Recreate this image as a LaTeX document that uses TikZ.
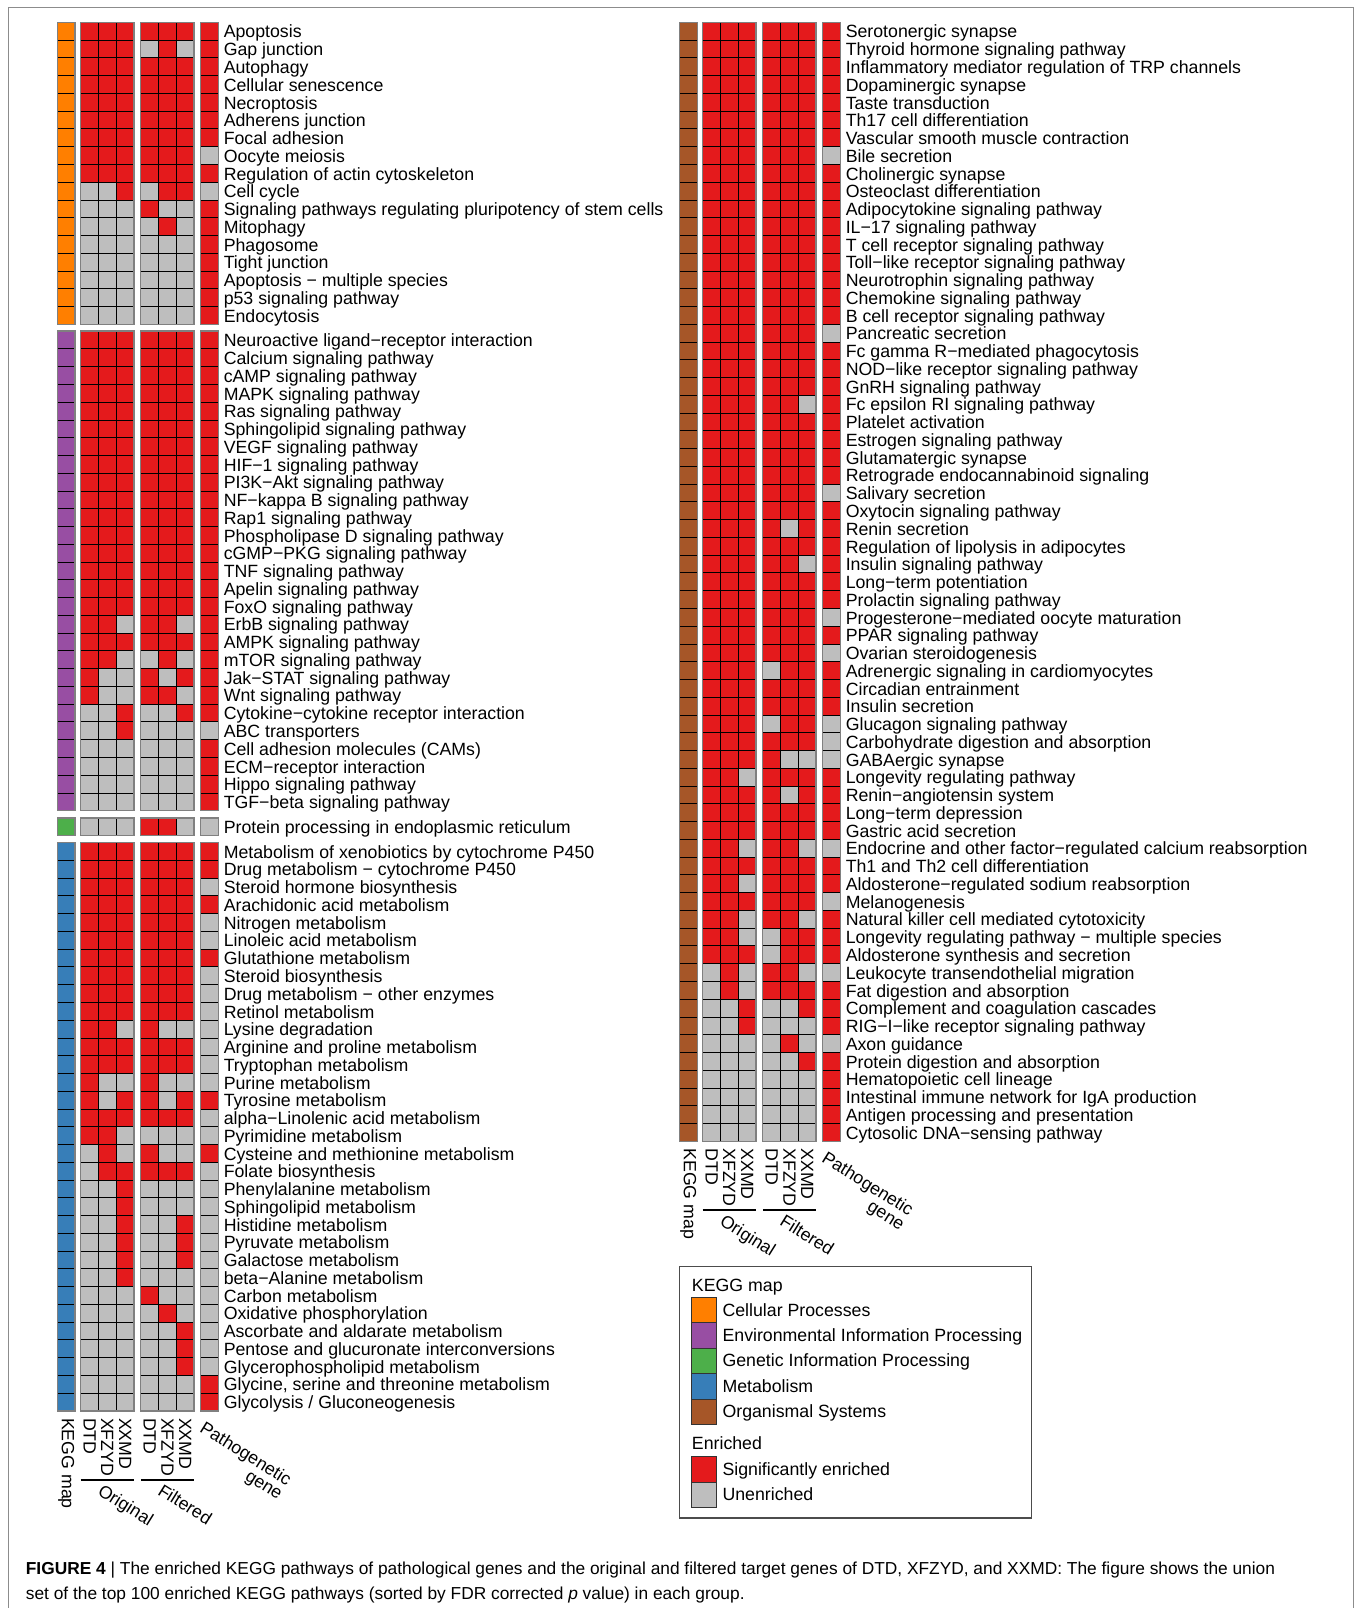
\documentclass[tikz,border=0pt]{standalone}
\usepackage{fontspec}
\setmainfont{Liberation Sans}
\usetikzlibrary{positioning}

\definecolor{cellproc}{HTML}{FF7F00}
\definecolor{envinfo}{HTML}{984EA3}
\definecolor{geninfo}{HTML}{4DAF4A}
\definecolor{metab}{HTML}{377EB8}
\definecolor{orgsys}{HTML}{A65628}
\definecolor{sigred}{HTML}{E41A1C}
\definecolor{unenr}{HTML}{BEBEBE}

\newcount\rowno
\def\cs{17.76}

% one heatmap cell, red if the bit is 1
\newcommand\hmcell[2]{%
  \ifnum#2=1 \def\cfill{sigred}\else\def\cfill{unenr}\fi
  \filldraw[cellbox,fill=\cfill] (#1,\yt) rectangle ++(\cs,\cs);}

\newcommand\hmbits[7]{%
  \hmcell{\xo+80.7}{#1}\hmcell{\xo+98.46}{#2}\hmcell{\xo+116.22}{#3}%
  \hmcell{\xo+140.8}{#4}\hmcell{\xo+158.56}{#5}\hmcell{\xo+176.32}{#6}%
  \hmcell{\xo+200.8}{#7}}

% x offset, top, kegg colour, rows, data
\newcommand\hmgroup[5]{%
  \def\xo{#1}
  \foreach \bits/\lab [count=\k from 0] in {#5}{
    \global\advance\rowno by 1
    \pgfmathsetmacro\yt{#2+\k*\cs}
    \filldraw[cellbox,fill=#3] (\xo+57.4,\yt) rectangle ++(\cs,\cs);
    \expandafter\hmbits\bits
    \node[lab] (pw\the\rowno) at (\xo+223.5,\yt+\cs/2+6.8) {\lab};
  }
  \pgfmathsetmacro\yb{#2+#4*\cs}
  \draw[blockrim] (\xo+57.4,#2) rectangle (\xo+75.16,\yb);
  \draw[blockrim] (\xo+80.7,#2) rectangle (\xo+133.98,\yb);
  \draw[blockrim] (\xo+140.8,#2) rectangle (\xo+194.08,\yb);
  \draw[blockrim] (\xo+200.8,#2) rectangle (\xo+218.56,\yb);
}

% column names under a panel
\newcommand\hmfoot[3]{%
  \node[colname] (#3kegg) at (#1+66.3,#2+7) {KEGG map};
  \node[colname] (#3odtd) at (#1+89.6,#2+7) {DTD};
  \node[colname] (#3oxf) at (#1+107.3,#2+7) {XFZYD};
  \node[colname] (#3oxx) at (#1+125.1,#2+7) {XXMD};
  \node[colname] (#3fdtd) at (#1+149.7,#2+7) {DTD};
  \node[colname] (#3fxf) at (#1+167.4,#2+7) {XFZYD};
  \node[colname] (#3fxx) at (#1+185.2,#2+7) {XXMD};
  \draw[grpline] (#1+80.7,#2+69) -- (#1+134,#2+69);
  \draw[grpline] (#1+140.8,#2+69) -- (#1+194.1,#2+69);
  \node[grpname] (#3orig) at (#1+103.5,#2+72) {Original};
  \node[grpname] (#3filt) at (#1+163.5,#2+72) {Filtered};
  \node[grpname,align=right] (#3path) at (#1+205.5,#2+9) {Pathogenetic\\gene};
}

\begin{document}
\begin{tikzpicture}[x=0.75pt,y=-0.75pt,
  cellbox/.style={draw=black,line width=0.55pt},
  blockrim/.style={draw=black!50,line width=1pt},
  lab/.style={font=\fontsize{13.3}{16}\selectfont,inner sep=0pt,anchor=base west},
  colname/.style={lab,rotate=-90,anchor=west},
  grpname/.style={lab,font=\fontsize{13.3}{12.5}\selectfont,rotate=-32,anchor=north west},
  grpline/.style={line width=1.4pt},
  legbox/.style={draw=black!80,line width=0.6pt},
  capt/.style={font=\fontsize{13}{15}\selectfont,inner sep=0pt,anchor=base west}]

\useasboundingbox (0,0) rectangle (1357,1608);
\fill[white] (0,0) rectangle (1357,1608);
\draw[black!45,line width=0.8pt] (8.5,1608) |- (1353.5,7.5) -- (1353.5,1608);

% left panel
\hmgroup{0}{22.3}{cellproc}{17}{
1111111/Apoptosis,
1110101/Gap junction,
1111111/Autophagy,
1111111/Cellular senescence,
1111111/Necroptosis,
1111111/Adherens junction,
1111111/Focal adhesion,
1111110/Oocyte meiosis,
1111111/Regulation of actin cytoskeleton,
0010110/Cell cycle,
0001001/Signaling pathways regulating pluripotency of stem cells,
0000101/Mitophagy,
0000001/Phagosome,
0000001/Tight junction,
0000001/Apoptosis − multiple species,
0000001/p53 signaling pathway,
0000001/Endocytosis}

\hmgroup{0}{331.1}{envinfo}{27}{
1111111/Neuroactive ligand−receptor interaction,
1111111/Calcium signaling pathway,
1111111/cAMP signaling pathway,
1111111/MAPK signaling pathway,
1111111/Ras signaling pathway,
1111111/Sphingolipid signaling pathway,
1111111/VEGF signaling pathway,
1111111/HIF−1 signaling pathway,
1111111/PI3K−Akt signaling pathway,
1111111/NF−kappa B signaling pathway,
1111111/Rap1 signaling pathway,
1111111/Phospholipase D signaling pathway,
1111111/cGMP−PKG signaling pathway,
1111111/TNF signaling pathway,
1111111/Apelin signaling pathway,
1111111/FoxO signaling pathway,
1101101/ErbB signaling pathway,
1111111/AMPK signaling pathway,
1100101/mTOR signaling pathway,
1001011/Jak−STAT signaling pathway,
1001101/Wnt signaling pathway,
0010011/Cytokine−cytokine receptor interaction,
0010000/ABC transporters,
0000001/Cell adhesion molecules (CAMs),
0000001/ECM−receptor interaction,
0000001/Hippo signaling pathway,
0000001/TGF−beta signaling pathway}

\hmgroup{0}{818.0}{geninfo}{1}{
0001100/Protein processing in endoplasmic reticulum}

\hmgroup{0}{842.5}{metab}{32}{
1111111/Metabolism of xenobiotics by cytochrome P450,
1111111/Drug metabolism − cytochrome P450,
1111110/Steroid hormone biosynthesis,
1111111/Arachidonic acid metabolism,
1111110/Nitrogen metabolism,
1111110/Linoleic acid metabolism,
1111111/Glutathione metabolism,
1111110/Steroid biosynthesis,
1111110/Drug metabolism − other enzymes,
1111110/Retinol metabolism,
1101000/Lysine degradation,
1111110/Arginine and proline metabolism,
1111110/Tryptophan metabolism,
1001000/Purine metabolism,
1011011/Tyrosine metabolism,
1111110/alpha−Linolenic acid metabolism,
1100000/Pyrimidine metabolism,
0101001/Cysteine and methionine metabolism,
0111110/Folate biosynthesis,
0010000/Phenylalanine metabolism,
0010000/Sphingolipid metabolism,
0010010/Histidine metabolism,
0010010/Pyruvate metabolism,
0010010/Galactose metabolism,
0010000/beta−Alanine metabolism,
0001000/Carbon metabolism,
0000100/Oxidative phosphorylation,
0000010/Ascorbate and aldarate metabolism,
0000010/Pentose and glucuronate interconversions,
0000010/Glycerophospholipid metabolism,
0000001/{Glycine, serine and threonine metabolism},
0000001/{Glycolysis / Gluconeogenesis}}

\hmfoot{0}{1410.8}{l}

% right panel
\hmgroup{622}{22.3}{orgsys}{63}{
1111111/Serotonergic synapse,
1111111/Thyroid hormone signaling pathway,
1111111/Inflammatory mediator regulation of TRP channels,
1111111/Dopaminergic synapse,
1111111/Taste transduction,
1111111/Th17 cell differentiation,
1111111/Vascular smooth muscle contraction,
1111110/Bile secretion,
1111111/Cholinergic synapse,
1111111/Osteoclast differentiation,
1111111/Adipocytokine signaling pathway,
1111111/IL−17 signaling pathway,
1111111/T cell receptor signaling pathway,
1111111/Toll−like receptor signaling pathway,
1111111/Neurotrophin signaling pathway,
1111111/Chemokine signaling pathway,
1111111/B cell receptor signaling pathway,
1111110/Pancreatic secretion,
1111111/Fc gamma R−mediated phagocytosis,
1111111/NOD−like receptor signaling pathway,
1111111/GnRH signaling pathway,
1111101/Fc epsilon RI signaling pathway,
1111111/Platelet activation,
1111111/Estrogen signaling pathway,
1111111/Glutamatergic synapse,
1111111/Retrograde endocannabinoid signaling,
1111110/Salivary secretion,
1111111/Oxytocin signaling pathway,
1111011/Renin secretion,
1111111/Regulation of lipolysis in adipocytes,
1111101/Insulin signaling pathway,
1111111/Long−term potentiation,
1111111/Prolactin signaling pathway,
1111110/Progesterone−mediated oocyte maturation,
1111111/PPAR signaling pathway,
1111110/Ovarian steroidogenesis,
1110111/Adrenergic signaling in cardiomyocytes,
1111111/Circadian entrainment,
1111111/Insulin secretion,
1110110/Glucagon signaling pathway,
1111110/Carbohydrate digestion and absorption,
1111000/GABAergic synapse,
1101111/Longevity regulating pathway,
1111011/Renin−angiotensin system,
1111111/Long−term depression,
1111111/Gastric acid secretion,
1101100/Endocrine and other factor−regulated calcium reabsorption,
1111111/Th1 and Th2 cell differentiation,
1101111/Aldosterone−regulated sodium reabsorption,
1111110/Melanogenesis,
1101101/Natural killer cell mediated cytotoxicity,
1100111/Longevity regulating pathway − multiple species,
1110111/Aldosterone synthesis and secretion,
0101100/Leukocyte transendothelial migration,
0101111/Fat digestion and absorption,
0010011/Complement and coagulation cascades,
0010001/RIG−I−like receptor signaling pathway,
0000100/Axon guidance,
0000011/Protein digestion and absorption,
0000001/Hematopoietic cell lineage,
0000001/Intestinal immune network for IgA production,
0000001/Antigen processing and presentation,
0000001/Cytosolic DNA−sensing pathway}

\hmfoot{622}{1141.2}{r}

% legend
\draw[black!70,line width=0.9pt] (679.3,1266.7) rectangle (1031.7,1518);
\node[lab] (keggtitle) at (691.7,1291) {KEGG map};
\foreach \c/\t [count=\i from 0] in {cellproc/Cellular Processes,
  envinfo/Environmental Information Processing,
  geninfo/Genetic Information Processing,
  metab/Metabolism, orgsys/Organismal Systems}{
  \filldraw[legbox,fill=\c] (691.7,1297.3+\i*25.4) rectangle ++(25,25.4);
  \node[lab] (kegg\i) at (722.3,1297.3+\i*25.4+18.7) {\t};
}
\node[lab] (enrtitle) at (691.7,1449.5) {Enriched};
\foreach \c/\t [count=\i from 0] in {sigred/Significantly enriched, unenr/Unenriched}{
  \filldraw[legbox,fill=\c] (691.7,1456.7+\i*25.4) rectangle ++(25,25.4);
  \node[lab] (enr\i) at (722.3,1456.7+\i*25.4+18.7) {\t};
}

% caption
\node[capt] (capa) at (25.6,1574) {\textbf{FIGURE 4} | The enriched KEGG pathways of pathological genes and the original and filtered target genes of DTD, XFZYD, and XXMD: The figure shows the union};
\node[capt] (capb) at (25.6,1599) {set of the top 100 enriched KEGG pathways (sorted by FDR corrected \textit{p} value) in each group.};
\end{tikzpicture}
\end{document}
